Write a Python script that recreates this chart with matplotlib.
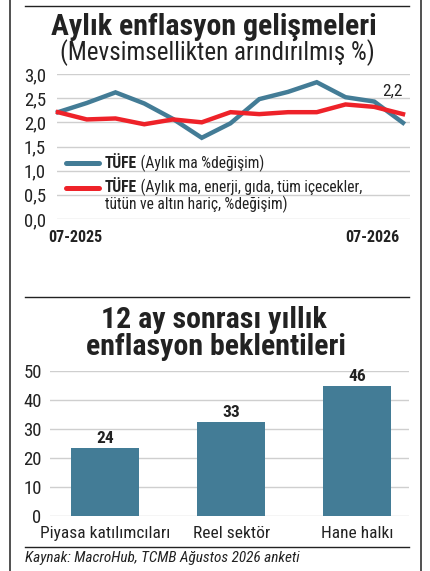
import matplotlib
matplotlib.use("Agg")
import matplotlib.pyplot as plt
from matplotlib import font_manager
from matplotlib.lines import Line2D

# --- data ---
months = ["07-2025", "08-2025", "09-2025", "10-2025", "11-2025", "12-2025", "01-2026",
          "02-2026", "03-2026", "04-2026", "05-2026", "06-2026", "07-2026"]
tufe = [2.21, 2.40, 2.62, 2.39, 2.07, 1.68, 1.98, 2.48, 2.63, 2.83, 2.52, 2.43, 1.99]
tufe_core = [2.21, 2.06, 2.08, 1.96, 2.06, 2.00, 2.21, 2.17, 2.21, 2.21, 2.37, 2.32, 2.17]
line_yticks = [0.0, 0.5, 1.0, 1.5, 2.0, 2.5, 3.0]
line_ytick_labels = ["0,0", "0,5", "1,0", "1,5", "2,0", "2,5", "3,0"]
last_label = "2,2"

groups = ["Piyasa katılımcıları", "Reel sektör", "Hane halkı"]
expect = [23.5, 32.4, 44.8]
expect_labels = ["24", "33", "46"]
bar_yticks = [0, 10, 20, 30, 40, 50]

BLUE = "#437c96"
RED = "#ee2229"
GRID = "#cfcfcf"
TXT = "#222222"

names = {f.name for f in font_manager.fontManager.ttflist}
FONT = "Roboto"
for cand in ["Roboto Condensed", "Liberation Sans Narrow", "DejaVu Sans Condensed", "Roboto"]:
    if cand in names:
        FONT = cand
        break
plt.rcParams["font.family"] = [FONT, "DejaVu Sans"]

W, H = 430, 571
fig = plt.figure(figsize=(W / 100, H / 100), dpi=100)


def box(x0, y0, x1, y1):
    return [x0 / W, 1 - y1 / H, (x1 - x0) / W, (y1 - y0) / H]


def fx(x):
    return x / W


def fy(y):
    return 1 - y / H


# page border lines and rules
for x in (10, 421):
    fig.add_artist(Line2D([fx(x), fx(x)], [0, 1], color="#333333", lw=1.2))
for y in (6, 297, 547):
    fig.add_artist(Line2D([fx(25), fx(409)], [fy(y), fy(y)], color="#222222", lw=1.0))

# --- line chart ---
fig.text(fx(214), fy(27), "Aylık enflasyon gelişmeleri", ha="center", va="center",
         fontsize=21.5, fontweight="bold", color=TXT)
fig.text(fx(217), fy(53), "(Mevsimsellikten arındırılmış %)", ha="center", va="center",
         fontsize=18, color=TXT)

ax = fig.add_axes(box(57, 74, 410, 219))
x = list(range(len(months)))
ax.plot(x, tufe, color=BLUE, lw=3.2, solid_joinstyle="miter", clip_on=False, zorder=3)
ax.plot(x, tufe_core, color=RED, lw=3.2, solid_joinstyle="miter", clip_on=False, zorder=4)
ax.set_xlim(-1 / 28.75, 12 + 7 / 28.75)
ax.set_ylim(0, 3)
ax.set_yticks(line_yticks)
ax.set_yticklabels(line_ytick_labels)
ax.set_xticks([])
ax.tick_params(axis="y", length=0, pad=8, labelsize=13.5, labelcolor=TXT)
ax.grid(axis="y", color=GRID, lw=1.0)
ax.set_axisbelow(True)
for s in ax.spines.values():
    s.set_visible(False)
ax.text(11.65, 2.65, last_label, ha="center", va="center", fontsize=12.5, color=TXT)
fig.text(fx(48), fy(238), months[0], ha="left", va="center", fontsize=11.5,
         fontweight="bold", color=TXT)
fig.text(fx(399), fy(238), months[-1], ha="right", va="center", fontsize=11.5,
         fontweight="bold", color=TXT)

# legend drawn by hand
fig.add_artist(Line2D([fx(66), fx(99)], [fy(163), fy(163)], color=BLUE, lw=3.6,
                      solid_capstyle="round"))
fig.add_artist(Line2D([fx(66), fx(99)], [fy(188), fy(188)], color=RED, lw=3.6,
                      solid_capstyle="round"))
fig.canvas.draw()
r = fig.canvas.get_renderer()
for yy, rest in [(163, " (Aylık ma %değişim)"),
                 (187, " (Aylık ma, enerji, gıda, tüm içecekler,")]:
    t = fig.text(fx(105), fy(yy), "TÜFE", ha="left", va="center", fontsize=11.2,
                 fontweight="bold", color=TXT)
    bb = t.get_window_extent(r)
    fig.text(bb.x1 / W, fy(yy), rest, ha="left", va="center", fontsize=11.2, color=TXT)
fig.text(fx(105), fy(204), "tütün ve altın hariç, %değişim)", ha="left", va="center",
         fontsize=11.2, color=TXT)

# --- bar chart ---
fig.text(fx(214), fy(320), "12 ay sonrası yıllık", ha="center", va="center",
         fontsize=21.5, fontweight="bold", color=TXT)
fig.text(fx(216), fy(347), "enflasyon beklentileri", ha="center", va="center",
         fontsize=21.5, fontweight="bold", color=TXT)

bx = fig.add_axes(box(50, 371, 409, 516))
pos = list(range(len(groups)))
bars = bx.bar(pos, expect, width=68 / 126, color=BLUE, zorder=3)
for b, lab in zip(bars, expect_labels):
    bx.text(b.get_x() + b.get_width() / 2, b.get_height() + 0.8, lab, ha="center",
            va="bottom", fontsize=12.5, fontweight="bold", color=TXT)
bx.set_xlim(-55 / 126, 2 + 51.5 / 126)
bx.set_ylim(0, 50)
bx.set_yticks(bar_yticks)
bx.set_xticks(pos)
bx.set_xticklabels(groups)
bx.tick_params(axis="y", length=0, pad=6, labelsize=13.5, labelcolor=TXT)
bx.tick_params(axis="x", length=0, pad=7, labelsize=12.5, labelcolor=TXT)
bx.grid(axis="y", color=GRID, lw=1.0, zorder=0)
bx.set_axisbelow(True)
for s in bx.spines.values():
    s.set_visible(False)

fig.text(fx(25), fy(558), "Kaynak: MacroHub, TCMB Ağustos 2026 anketi", ha="left",
         va="center", fontsize=11, style="italic", color=TXT)

fig.savefig("out.png", dpi=100)
